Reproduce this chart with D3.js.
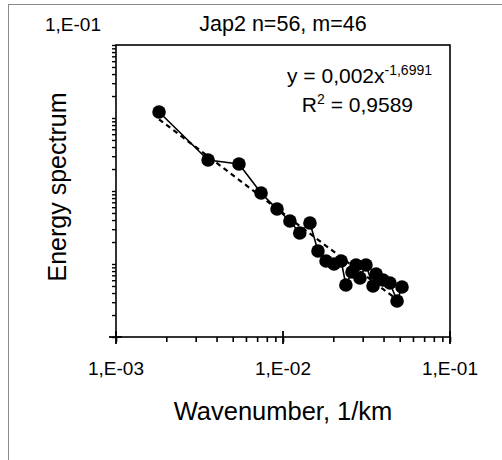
<html>
<head>
  <meta charset="utf8">
  <title>Jap2 spectrum</title>
  <style>
  * { margin: 0; padding: 0; }
  body { background: #fff; }
  text { font-family: "Liberation Sans", Arial, sans-serif; fill: #000; }
  </style>
</head>
<body>
  <script src="https://cdn.jsdelivr.net/npm/d3@7"></script>
  <script>
  var w = 502;
  var h = 460;

  // wavenumber (1/km)
  var wavenumber = [0.00181, 0.00356, 0.00545, 0.00739, 0.00921, 0.0110, 0.0126, 0.0145,
    0.0162, 0.0181, 0.0202, 0.0223, 0.0238, 0.0259, 0.0274, 0.0289, 0.0314, 0.0346,
    0.0361, 0.0397, 0.0437, 0.0482, 0.0516];
  // energy spectrum
  var energy = [0.0121, 0.00266, 0.00234, 0.000939, 0.000567, 0.000388, 0.000266, 0.000364,
    0.000151, 0.000110, 0.000100, 0.000110, 0.0000516, 0.0000777, 0.0000969, 0.0000643,
    0.0000969, 0.0000500, 0.0000730, 0.0000604, 0.0000549, 0.0000311, 0.0000484];
  var xMajor = [1e-3, 1e-2, 1e-1];
  var title = "Jap2 n=56, m=46";
  var eqText = ["y = 0,002x", "-1,6991"];
  var r2Text = "0,9589";

  var pLeft = 116, pRight = 450, pTop = 45, pBottom = 337;

  var xScale = d3.scaleLog().domain([1e-3, 1e-1]).range([pLeft, pRight]);
  var yScale = d3.scaleLog().domain([1e-5, 1e-1]).range([pBottom, pTop]);

  function sci(d) {
    var e = Math.round(Math.log10(d));
    var s = Math.abs(e) < 10 ? "0" + Math.abs(e) : "" + Math.abs(e);
    return "1,E" + (e < 0 ? "-" : "+") + s;
  }

  var svg = d3.select("body").append("svg")
    .attr("width", w)
    .attr("height", h);

  // outer chart frame
  svg.append("rect")
    .attr("x", 8.5).attr("y", 4.5)
    .attr("width", 600).attr("height", 600)
    .attr("fill", "none")
    .attr("stroke", "#8a8a8a")
    .attr("stroke-width", 1);

  // plot area frame
  svg.append("rect")
    .attr("x", pLeft).attr("y", pTop)
    .attr("width", pRight - pLeft).attr("height", pBottom - pTop)
    .attr("fill", "none")
    .attr("stroke", "#000")
    .attr("stroke-width", 1.6);

  // minor ticks
  svg.append("g")
    .attr("transform", "translate(0," + pBottom + ")")
    .call(d3.axisBottom(xScale).tickValues(xScale.ticks()).tickSize(5).tickFormat(""))
    .call(g => g.select(".domain").remove())
    .selectAll("line").attr("stroke-width", 1.6);
  svg.append("g")
    .attr("transform", "translate(" + pLeft + ",0)")
    .call(d3.axisLeft(yScale).tickValues(yScale.ticks()).tickSize(4).tickFormat(""))
    .call(g => g.select(".domain").remove())
    .selectAll("line").attr("stroke-width", 1.4);

  // major ticks (cross)
  svg.selectAll(".xmaj")
    .data(xMajor)
    .enter().append("line")
    .attr("x1", d => xScale(d)).attr("x2", d => xScale(d))
    .attr("y1", pBottom - 6).attr("y2", pBottom + 7)
    .attr("stroke", "#000").attr("stroke-width", 1.8);
  svg.append("line")
    .attr("x1", pLeft - 7).attr("x2", pLeft + 6)
    .attr("y1", pBottom).attr("y2", pBottom)
    .attr("stroke", "#000").attr("stroke-width", 1.8);

  // x tick labels
  svg.selectAll(".xlab")
    .data(xMajor)
    .enter().append("text")
    .attr("x", d => xScale(d))
    .attr("y", 375)
    .attr("text-anchor", "middle")
    .attr("font-size", "19px")
    .text(sci);

  // y top label
  svg.append("text")
    .attr("x", 73).attr("y", 31)
    .attr("text-anchor", "middle")
    .attr("font-size", "19px")
    .text(sci(yScale.domain()[1]));

  // title
  svg.append("text")
    .attr("x", 283).attr("y", 31)
    .attr("text-anchor", "middle")
    .attr("font-size", "21.5px")
    .text(title);

  // axis titles
  svg.append("text")
    .attr("x", 283).attr("y", 420)
    .attr("text-anchor", "middle")
    .attr("font-size", "25.5px")
    .text("Wavenumber, 1/km");
  svg.append("text")
    .attr("transform", "translate(66,187) rotate(-90)")
    .attr("text-anchor", "middle")
    .attr("font-size", "25px")
    .text("Energy spectrum");

  // power-law fit in log-log space
  var lx = wavenumber.map(d => Math.log10(d));
  var ly = energy.map(d => Math.log10(d));
  var mx = d3.mean(lx), my = d3.mean(ly);
  var slope = d3.sum(lx, (d, i) => (d - mx) * (ly[i] - my)) / d3.sum(lx, d => (d - mx) * (d - mx));
  var icpt = my - slope * mx;
  var xr = d3.extent(wavenumber);
  svg.append("line")
    .attr("x1", xScale(xr[0])).attr("y1", yScale(Math.pow(10, icpt + slope * Math.log10(xr[0]))))
    .attr("x2", xScale(xr[1])).attr("y2", yScale(Math.pow(10, icpt + slope * Math.log10(xr[1]))))
    .attr("stroke", "#000")
    .attr("stroke-width", 2.2)
    .attr("stroke-dasharray", "5,4");

  // data line
  var line = d3.line()
    .x((d, i) => xScale(wavenumber[i]))
    .y(d => yScale(d));
  svg.append("path")
    .datum(energy)
    .attr("d", line)
    .attr("fill", "none")
    .attr("stroke", "#000")
    .attr("stroke-width", 1.6);

  // points
  svg.selectAll("circle")
    .data(energy)
    .enter()
    .append("circle")
    .attr("cx", (d, i) => xScale(wavenumber[i]))
    .attr("cy", d => yScale(d))
    .attr("r", 6.8)
    .attr("fill", "#000");

  // equation
  var eq = svg.append("text")
    .attr("x", 432).attr("y", 83)
    .attr("text-anchor", "end")
    .attr("font-size", "21px");
  eq.append("tspan").text(eqText[0]);
  eq.append("tspan").attr("dy", -8).attr("font-size", "14px").text(eqText[1]);

  var r2 = svg.append("text")
    .attr("x", 413).attr("y", 112)
    .attr("text-anchor", "end")
    .attr("font-size", "21px");
  r2.append("tspan").text("R");
  r2.append("tspan").attr("dy", -8).attr("font-size", "14px").text("2");
  r2.append("tspan").attr("dy", 8).text(" = " + r2Text);
  </script>
</body>
</html>
